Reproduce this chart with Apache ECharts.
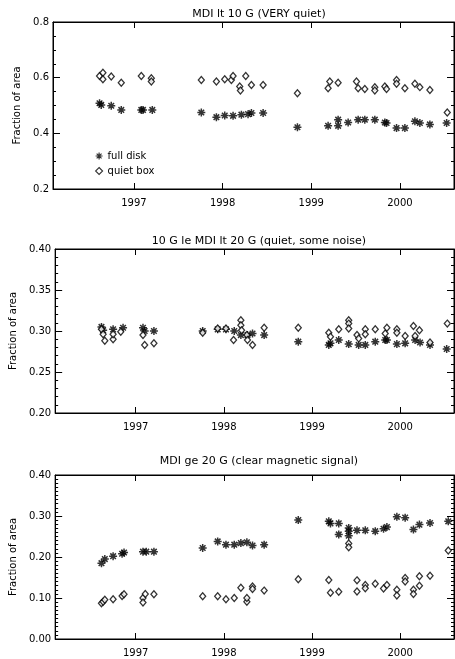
<!DOCTYPE html>
<html><head><meta charset="utf-8">
<script src="https://cdn.jsdelivr.net/npm/echarts@6/dist/echarts.min.js"></script>
<style>html,body{margin:0;padding:0;background:#fff}#c{width:455px;height:659px}</style>
</head><body><div id="c"></div>
<script>
// Tick labels / titles
const yearTicks = [1997, 1998, 1999, 2000];
const titles = ["MDI lt 10 G (VERY quiet)", "10 G le MDI lt 20 G (quiet, some noise)", "MDI ge 20 G (clear magnetic signal)"];
const seriesNames = ["full disk", "quiet box"];

// Panel 1: MDI lt 10 G  [year, fraction]
const p1Full = [[1996.612,0.508],[1996.631,0.502],[1996.744,0.499],[1996.857,0.484],[1997.083,0.484],[1997.102,0.484],[1997.207,0.484],
 [1997.760,0.475],[1997.930,0.458],[1998.024,0.464],[1998.118,0.463],[1998.212,0.467],[1998.287,0.469],[1998.325,0.473],[1998.457,0.473],
 [1998.844,0.422],[1999.190,0.427],[1999.303,0.449],[1999.303,0.427],[1999.416,0.439],[1999.529,0.449],[1999.604,0.449],[1999.717,0.449],
 [1999.830,0.439],[1999.849,0.437],[1999.962,0.419],[2000.056,0.419],[2000.169,0.443],[2000.225,0.437],[2000.338,0.432],[2000.527,0.437]];
const p1Quiet = [[1996.612,0.606],[1996.650,0.618],[1996.650,0.594],[1996.744,0.604],[1996.857,0.582],[1997.083,0.606],[1997.196,0.598],[1997.196,0.586],
 [1997.760,0.592],[1997.930,0.586],[1998.024,0.594],[1998.099,0.592],[1998.118,0.606],[1998.193,0.568],[1998.201,0.554],[1998.261,0.606],[1998.325,0.574],[1998.457,0.574],
 [1998.844,0.544],[1999.190,0.562],[1999.209,0.586],[1999.303,0.582],[1999.510,0.586],[1999.529,0.562],[1999.604,0.559],[1999.717,0.566],[1999.717,0.554],
 [1999.830,0.568],[1999.849,0.559],[1999.962,0.592],[1999.962,0.578],[2000.056,0.562],[2000.169,0.578],[2000.225,0.566],[2000.338,0.556],[2000.534,0.475]];

// Panel 2: 10 G le MDI lt 20 G
const p2Full = [[1996.612,0.305],[1996.631,0.301],[1996.744,0.302],[1996.857,0.304],[1997.083,0.304],[1997.102,0.300],[1997.207,0.300],
 [1997.760,0.300],[1997.930,0.302],[1998.024,0.302],[1998.118,0.300],[1998.193,0.295],[1998.268,0.295],[1998.325,0.297],[1998.457,0.295],
 [1998.844,0.287],[1999.190,0.283],[1999.209,0.285],[1999.303,0.289],[1999.416,0.284],[1999.529,0.283],[1999.604,0.283],[1999.717,0.287],
 [1999.830,0.289],[1999.849,0.289],[1999.962,0.284],[2000.056,0.285],[2000.169,0.289],[2000.225,0.286],[2000.338,0.283],[2000.527,0.278]];
const p2Quiet = [[1996.612,0.302],[1996.631,0.296],[1996.650,0.288],[1996.744,0.290],[1996.744,0.296],[1996.831,0.299],[1997.083,0.295],[1997.102,0.283],[1997.207,0.285],
 [1997.760,0.298],[1997.930,0.303],[1998.024,0.303],[1998.110,0.289],[1998.193,0.313],[1998.193,0.307],[1998.201,0.301],[1998.261,0.295],[1998.268,0.289],[1998.325,0.283],[1998.457,0.304],
 [1998.844,0.304],[1999.190,0.298],[1999.209,0.293],[1999.303,0.302],[1999.416,0.313],[1999.416,0.309],[1999.416,0.303],[1999.510,0.295],[1999.529,0.291],[1999.604,0.302],[1999.604,0.296],
 [1999.717,0.302],[1999.830,0.297],[1999.849,0.304],[1999.962,0.302],[1999.962,0.298],[2000.056,0.294],[2000.150,0.306],[2000.169,0.294],[2000.218,0.301],[2000.338,0.286],[2000.534,0.309]];

// Panel 3: MDI ge 20 G
const p3Full = [[1996.612,0.185],[1996.650,0.195],[1996.744,0.202],[1996.846,0.208],[1996.868,0.211],[1997.083,0.213],[1997.120,0.213],[1997.207,0.213],
 [1997.760,0.222],[1997.930,0.238],[1998.024,0.230],[1998.118,0.230],[1998.193,0.234],[1998.261,0.236],[1998.325,0.228],[1998.457,0.230],
 [1998.844,0.290],[1999.190,0.287],[1999.209,0.282],[1999.303,0.282],[1999.303,0.255],[1999.416,0.271],[1999.416,0.263],[1999.416,0.252],
 [1999.510,0.265],[1999.604,0.265],[1999.717,0.263],[1999.811,0.269],[1999.849,0.273],[1999.962,0.298],[2000.056,0.296],[2000.150,0.267],[2000.218,0.279],[2000.338,0.283],[2000.545,0.287]];
const p3Quiet = [[1996.612,0.087],[1996.631,0.091],[1996.650,0.096],[1996.744,0.097],[1996.846,0.105],[1996.868,0.109],[1997.083,0.100],[1997.083,0.089],[1997.109,0.110],[1997.207,0.109],
 [1997.760,0.104],[1997.930,0.104],[1998.024,0.097],[1998.118,0.100],[1998.193,0.125],[1998.261,0.091],[1998.261,0.100],[1998.325,0.128],[1998.325,0.122],[1998.457,0.118],
 [1998.844,0.146],[1999.190,0.144],[1999.209,0.113],[1999.303,0.115],[1999.416,0.233],[1999.416,0.224],[1999.510,0.143],[1999.510,0.116],[1999.604,0.132],[1999.604,0.124],
 [1999.717,0.135],[1999.811,0.123],[1999.849,0.132],[1999.962,0.120],[1999.962,0.106],[2000.056,0.149],[2000.056,0.140],[2000.150,0.120],[2000.150,0.110],[2000.218,0.130],[2000.218,0.153],[2000.338,0.154],[2000.545,0.216]];

const yRanges = [[0.2,0.8,0.2,4,1],[0.2,0.4,0.05,5,2],[0,0.4,0.1,10,2]];
const fulls = [p1Full, p2Full, p3Full];
const quiets = [p1Quiet, p2Quiet, p3Quiet];

const FONT = "DejaVu Sans";
const grids = [{left:53,right:1,top:22,height:167},{left:53,right:1,top:249,height:164},{left:53,right:1,top:475,height:164}];
const XMIN = 1996.087, XMAX = 2000.61;
const asterisk = 'path://M5 0L5 10M0 5L10 5M1.5 1.5L8.5 8.5M1.5 8.5L8.5 1.5';

const option = {animation:false, backgroundColor:'#fff',
  title: titles.map((t,i)=>({text:t, left:254, textAlign:'center', top:[4,231,451][i],
    textStyle:{fontFamily:FONT,fontSize:11,fontWeight:'normal',color:'#000'}})),
  legend:{data:[{name:seriesNames[0], icon:asterisk, itemStyle:{color:'#000',borderColor:'#000',borderWidth:1.2}},
                {name:seriesNames[1], icon:'diamond', itemStyle:{color:'#fff',borderColor:'#000',borderWidth:1.1}}],
    orient:'vertical', left:95, top:151, itemWidth:7, itemHeight:7, itemGap:5, padding:0,
    textStyle:{fontFamily:FONT,fontSize:10,color:'#000'}},
  grid: grids.map(g=>Object.assign({show:true,borderColor:'#000',borderWidth:1},g)),
  xAxis:[], yAxis:[], series:[]};

for (let i=0;i<3;i++){
  option.xAxis.push({type:'value', gridIndex:i, min:XMIN, max:XMAX, position:'bottom',
    axisLine:{show:true,onZero:false,lineStyle:{color:'#000'}}, splitLine:{show:false},
    axisTick:{show:true,inside:true,length:6,customValues:yearTicks,lineStyle:{color:'#000'}},
    axisLabel:{customValues:yearTicks,formatter:v=>String(Math.round(v)),fontFamily:FONT,fontSize:10,color:'#000',margin:9}});
  option.xAxis.push({type:'value', gridIndex:i, min:XMIN, max:XMAX, position:'top',
    axisLine:{show:true,onZero:false,lineStyle:{color:'#000'}}, splitLine:{show:false},
    axisTick:{show:true,inside:true,length:6,customValues:yearTicks,lineStyle:{color:'#000'}},
    axisLabel:{show:false}});
  const [mn,mx,iv,ms,dec] = yRanges[i];
  const common = {type:'value', gridIndex:i, min:mn, max:mx, interval:iv, splitLine:{show:false},
    axisLine:{show:true,onZero:false,lineStyle:{color:'#000'}},
    axisTick:{show:true,inside:true,length:7,lineStyle:{color:'#000'}},
    minorTick:{show:true,splitNumber:ms,length:3,lineStyle:{color:'#000'}}};
  option.yAxis.push(Object.assign({}, common, {position:'left', name:'Fraction of area', nameLocation:'middle', nameGap:28,
    nameTextStyle:{fontFamily:FONT,fontSize:10,color:'#000'},
    axisLabel:{formatter:v=>v.toFixed(dec),fontFamily:FONT,fontSize:10,color:'#000',margin:4}}));
  option.yAxis.push(Object.assign({}, common, {position:'right', axisLabel:{show:false}}));
  option.series.push({name:seriesNames[0], type:'scatter', xAxisIndex:2*i, yAxisIndex:2*i, data:fulls[i],
    symbol:asterisk, symbolSize:8, itemStyle:{color:'#000',borderColor:'#000',borderWidth:1.5}});
  option.series.push({name:seriesNames[1], type:'scatter', xAxisIndex:2*i, yAxisIndex:2*i, data:quiets[i],
    symbol:'diamond', symbolSize:[6,7], itemStyle:{color:'#fff',borderColor:'#000',borderWidth:1.3}});
}
const chart = echarts.init(document.getElementById('c'), null, {renderer:'canvas'});
chart.setOption(option);
</script></body></html>
